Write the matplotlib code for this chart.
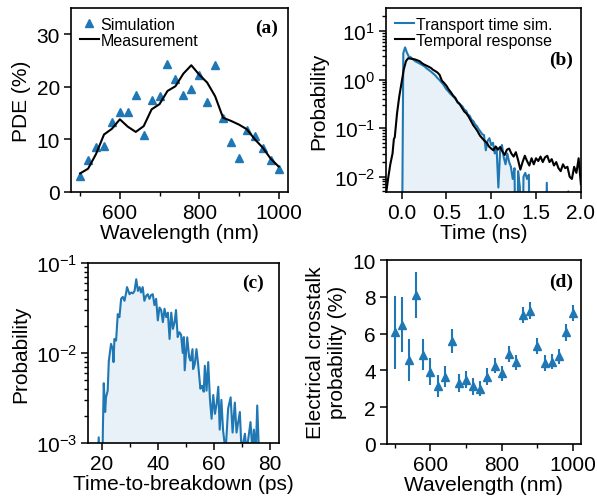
import matplotlib
matplotlib.use("Agg")
import matplotlib.pyplot as plt
from matplotlib.ticker import MultipleLocator, LogLocator, NullFormatter, FixedLocator

plt.rcParams['font.family'] = ['Liberation Sans', 'DejaVu Sans']
plt.rcParams['mathtext.fontset'] = 'custom'
plt.rcParams['mathtext.rm'] = 'Liberation Sans'
plt.rcParams['mathtext.it'] = 'Liberation Sans:italic'
plt.rcParams['mathtext.default'] = 'regular'
plt.rcParams['axes.linewidth'] = 1.2

# ---------------- data ----------------
# (a) PDE
wavelength_a = [500, 520, 540, 560, 580, 600, 620, 640, 660, 680, 700, 720, 740,
                760, 780, 800, 820, 840, 860, 880, 900, 920, 940, 960, 980, 1000]
pde_sim = [3.0, 6.1, 8.6, 8.7, 13.2, 15.2, 15.2, 18.4, 10.9, 17.5, 18.2, 24.3, 21.5,
           18.5, 19.6, 22.2, 17.1, 24.1, 14.0, 9.5, 6.5, 11.7, 10.6, 8.4, 6.1, 4.3]
pde_meas = [3.5, 4.4, 7.2, 10.9, 12.0, 13.8, 12.4, 11.4, 12.5, 15.7, 16.7, 19.2, 20.1,
            22.5, 24.1, 22.3, 20.8, 18.2, 14.1, 13.5, 12.8, 11.9, 10.0, 8.4, 6.3, 4.8]

# (b) transport time simulation (blue) and temporal response (black)
time_sim = [0.00, 0.02, 0.04, 0.06, 0.08, 0.10, 0.12, 0.14, 0.16, 0.18, 0.20, 0.22, 0.24,
            0.26, 0.28, 0.30, 0.32, 0.34, 0.36, 0.38, 0.40, 0.42, 0.44, 0.46, 0.48, 0.50,
            0.52, 0.54, 0.56, 0.58, 0.60, 0.62, 0.64, 0.66, 0.68, 0.70, 0.72, 0.74, 0.76,
            0.78, 0.80, 0.82, 0.84, 0.86, 0.88, 0.90, 0.92, 0.94, 0.96, 0.98, 1.00, 1.02,
            1.04, 1.06, 1.08, 1.10, 1.12, 1.14, 1.16, 1.18, 1.20, 1.22, 1.24, 1.26, 1.28,
            1.30, 1.32, 1.34, 1.36, 1.38, 1.40, 1.42, 1.44, 1.46, 1.60, 1.62, 1.64, 1.84,
            1.86, 1.88, 2.00]
prob_sim = [1e-5, 3.5, 4.6, 3.6, 3.0, 2.9, 2.7, 2.5, 2.35, 2.25, 2.15, 2.05, 1.95,
            1.85, 1.7, 1.6, 1.5, 1.4, 1.3, 1.2, 1.08, 1.0, 0.9, 0.82, 0.72, 0.63,
            0.58, 0.52, 0.48, 0.44, 0.40, 0.36, 0.33, 0.30, 0.28, 0.24, 0.23, 0.19, 0.18,
            0.15, 0.14, 0.12, 0.11, 0.095, 0.085, 0.075, 0.072, 0.035, 0.055, 0.062, 0.045, 0.05,
            0.03, 0.04, 0.006, 0.035, 0.045, 0.025, 0.018, 0.03, 0.02, 0.016, 0.009, 0.015, 1e-5,
            0.013, 0.006, 1e-5, 0.01, 0.012, 0.009, 0.011, 1e-5, 1e-5, 1e-5, 0.0075, 1e-5, 1e-5,
            0.005, 1e-5, 1e-5]

time_resp = [-0.175, -0.15, -0.125, -0.10, -0.085, -0.075, -0.05, -0.025, 0.00, 0.025, 0.05,
             0.075, 0.10, 0.125, 0.15, 0.175, 0.20, 0.225, 0.25, 0.275, 0.30, 0.325, 0.35,
             0.375, 0.40, 0.425, 0.45, 0.475, 0.50, 0.525, 0.55, 0.575, 0.60, 0.625, 0.65,
             0.675, 0.70, 0.725, 0.75, 0.775, 0.80, 0.825, 0.85, 0.875, 0.90, 0.925, 0.95,
             0.975, 1.00, 1.025, 1.05, 1.075, 1.10, 1.125, 1.15, 1.175, 1.20, 1.225, 1.25,
             1.275, 1.30, 1.325, 1.35, 1.375, 1.40, 1.425, 1.45, 1.475, 1.50, 1.525, 1.55,
             1.575, 1.60, 1.625, 1.65, 1.675, 1.70, 1.725, 1.75, 1.775, 1.80, 1.825, 1.85,
             1.875, 1.90, 1.925, 1.95, 1.975, 2.00]
prob_resp = [0.004, 0.009, 0.018, 0.03, 0.06, 0.065, 0.2, 0.45, 0.85, 1.6, 2.4,
             2.75, 2.7, 2.65, 2.6, 2.5, 2.4, 2.2, 2.05, 1.95, 1.85, 1.75, 1.6,
             1.5, 1.4, 1.25, 0.95, 0.85, 0.75, 0.63, 0.55, 0.47, 0.42, 0.34, 0.31,
             0.26, 0.22, 0.2, 0.17, 0.14, 0.115, 0.1, 0.085, 0.07, 0.062, 0.055, 0.05,
             0.042, 0.038, 0.035, 0.042, 0.036, 0.041, 0.033, 0.028, 0.036, 0.038, 0.03, 0.026,
             0.032, 0.022, 0.014, 0.02, 0.027, 0.021, 0.017, 0.024, 0.018, 0.024, 0.021, 0.026,
             0.02, 0.025, 0.027, 0.02, 0.023, 0.017, 0.02, 0.015, 0.013, 0.018, 0.015, 0.016,
             0.01, 0.009, 0.016, 0.012, 0.024, 0.007]

# (c) time-to-breakdown
ttb = [18.5, 18.9, 19.3, 20.2, 20.4, 20.7, 21.2, 21.5, 22.1, 22.5, 23.3, 23.9, 24.2, 24.5,
       25.1, 25.7, 26.3, 26.9, 27.5, 28.1, 28.7, 29.0, 29.9, 30.5, 31.1, 31.7, 32.3, 32.9,
       33.5, 34.0, 34.6, 35.2, 35.8, 36.4, 37.0, 37.6, 38.2, 38.8, 39.4, 40.0, 40.6, 41.2,
       41.8, 42.4, 43.0, 43.6, 44.2, 44.8, 45.4, 46.0, 46.5, 47.1, 47.7, 48.3, 48.9, 49.3,
       49.6, 50.5, 51.2, 51.7, 52.4, 52.6, 53.2, 53.8, 54.4, 55.2, 55.8, 56.4, 56.8, 57.4,
       58.0, 58.6, 59.2, 59.8, 60.4, 61.0, 61.6, 62.1, 62.7, 63.3, 64.2, 65.1, 66.0, 66.7,
       67.5, 68.1, 69.3, 69.9, 71.1, 71.7, 73.1, 73.8, 74.3, 75.0, 75.5, 76.1]
prob_ttb = [0.0005, 0.00115, 0.0005, 0.0005, 0.0015, 0.0046, 0.0022, 0.0032, 0.0038, 0.0081,
            0.0126, 0.011, 0.0079, 0.0143, 0.0137, 0.027, 0.025, 0.040, 0.042, 0.038, 0.047,
            0.054, 0.045, 0.047, 0.046, 0.049, 0.066, 0.049, 0.054, 0.047, 0.054, 0.038, 0.043,
            0.045, 0.040, 0.044, 0.045, 0.034, 0.040, 0.023, 0.032, 0.030, 0.022, 0.031, 0.025,
            0.028, 0.0143, 0.028, 0.0185, 0.022, 0.030, 0.015, 0.017, 0.016, 0.010, 0.015,
            0.0064, 0.0149, 0.0089, 0.0082, 0.011, 0.0066, 0.0075, 0.011, 0.0075, 0.0040, 0.0043,
            0.0037, 0.0072, 0.0038, 0.0079, 0.0031, 0.00185, 0.0034, 0.0021, 0.0027, 0.0042,
            0.0014, 0.0030, 0.00137, 0.0008, 0.0024, 0.0032, 0.0013, 0.0028, 0.0013, 0.0022,
            0.0008, 0.00126, 0.0008, 0.0017, 0.0008, 0.0014, 0.0008, 0.0026, 0.0008]

# (d) electrical crosstalk
wavelength_d = [500, 520, 540, 560, 580, 600, 620, 640, 660, 680, 700, 720, 740,
                760, 780, 800, 820, 840, 860, 880, 900, 920, 940, 960, 980, 1000]
crosstalk = [6.07, 6.47, 4.57, 8.1, 4.84, 3.93, 3.13, 3.66, 5.6, 3.32, 3.48, 3.12, 2.99,
             3.66, 4.26, 3.84, 4.89, 4.44, 7.01, 7.25, 5.31, 4.40, 4.46, 4.76, 6.07, 7.1]
crosstalk_err = [2.0, 1.5, 1.15, 1.25, 0.85, 0.75, 0.6, 0.57, 0.65, 0.48, 0.47, 0.45, 0.4,
                 0.45, 0.42, 0.4, 0.43, 0.4, 0.45, 0.45, 0.43, 0.43, 0.41, 0.41, 0.45, 0.43]

BLUE = '#1f77b4'
FS = 15
LFS = 11.5

fig = plt.figure(figsize=(5.97, 5.02), dpi=100)
ax_a = fig.add_axes([0.119, 0.616, 0.363, 0.366])
ax_b = fig.add_axes([0.647, 0.616, 0.326, 0.366])
ax_c = fig.add_axes([0.148, 0.116, 0.319, 0.358])
ax_d = fig.add_axes([0.648, 0.114, 0.325, 0.366])

for ax in (ax_a, ax_b, ax_c, ax_d):
    ax.tick_params(which='major', direction='out', length=5, width=1.1, labelsize=FS, pad=3)
    ax.tick_params(which='minor', direction='out', length=3, width=1.0)

def panel_label(ax, text, x, y):
    ax.text(x, y, text, transform=ax.transAxes, ha='right', va='top',
            fontsize=14, fontweight='bold', family='Liberation Serif')

legend_kw = dict(loc='upper left', frameon=False, fontsize=LFS, handlelength=1.2,
                 handletextpad=0.1, labelspacing=0.05, borderaxespad=0.35, borderpad=0.2)

# (a)
ax_a.plot(wavelength_a, pde_sim, linestyle='none', marker='^', color=BLUE, ms=6,
          label='Simulation')
ax_a.plot(wavelength_a, pde_meas, color='black', lw=1.5, label='Measurement')
ax_a.set_xlim(477, 1023)
ax_a.set_ylim(0, 35)
ax_a.xaxis.set_major_locator(MultipleLocator(200))
ax_a.xaxis.set_minor_locator(FixedLocator([500, 700, 900]))
ax_a.yaxis.set_major_locator(MultipleLocator(10))
ax_a.set_xlabel('Wavelength (nm)', fontsize=FS, labelpad=1)
ax_a.set_ylabel('PDE (%)', fontsize=FS)
ax_a.legend(**legend_kw)
panel_label(ax_a, '(a)', 0.955, 0.94)

# (b)
ax_b.fill_between(time_sim, 1e-6, prob_sim, color=BLUE, alpha=0.1, lw=0)
ax_b.plot(time_sim, prob_sim, color=BLUE, lw=1.5, label='Transport time sim.')
ax_b.plot(time_resp, prob_resp, color='black', lw=1.5, label='Temporal response')
ax_b.set_yscale('log')
ax_b.set_xlim(-0.17, 2.0)
ax_b.set_ylim(0.0049, 29.7)
ax_b.xaxis.set_major_locator(MultipleLocator(0.5))
ax_b.xaxis.set_major_formatter(matplotlib.ticker.FormatStrFormatter('%.1f'))
ax_b.yaxis.set_major_locator(LogLocator(base=10, numticks=10))
ax_b.yaxis.set_minor_locator(LogLocator(base=10, subs=range(2, 10), numticks=20))
ax_b.yaxis.set_minor_formatter(NullFormatter())
ax_b.set_xlabel('Time (ns)', fontsize=FS, labelpad=1)
ax_b.set_ylabel('Probability', fontsize=FS)
ax_b.legend(**legend_kw)
panel_label(ax_b, '(b)', 0.96, 0.77)

# (c)
ax_c.fill_between(ttb, 1e-5, prob_ttb, color=BLUE, alpha=0.1, lw=0)
ax_c.plot(ttb, prob_ttb, color=BLUE, lw=1.5)
ax_c.set_yscale('log')
ax_c.set_xlim(15.2, 83.2)
ax_c.set_ylim(1e-3, 1e-1)
ax_c.xaxis.set_major_locator(MultipleLocator(20))
ax_c.xaxis.set_minor_locator(MultipleLocator(10))
ax_c.yaxis.set_major_locator(LogLocator(base=10, numticks=10))
ax_c.yaxis.set_minor_locator(LogLocator(base=10, subs=range(2, 10), numticks=20))
ax_c.yaxis.set_minor_formatter(NullFormatter())
ax_c.set_xlabel('Time-to-breakdown (ps)', fontsize=FS, labelpad=1)
ax_c.set_ylabel('Probability', fontsize=FS)
panel_label(ax_c, '(c)', 0.92, 0.94)

# (d)
ax_d.errorbar(wavelength_d, crosstalk, yerr=crosstalk_err, fmt='^', color=BLUE, ms=6,
              elinewidth=1.5, capsize=0)
ax_d.set_xlim(478, 1022)
ax_d.set_ylim(0, 10)
ax_d.xaxis.set_major_locator(MultipleLocator(200))
ax_d.xaxis.set_minor_locator(FixedLocator([500, 700, 900]))
ax_d.yaxis.set_major_locator(MultipleLocator(2))
ax_d.set_xlabel('Wavelength (nm)', fontsize=FS, labelpad=1)
ax_d.set_ylabel('Electrical crosstalk\nprobability (%)', fontsize=FS)
panel_label(ax_d, '(d)', 0.96, 0.93)

fig.savefig('out.png', dpi=100)
